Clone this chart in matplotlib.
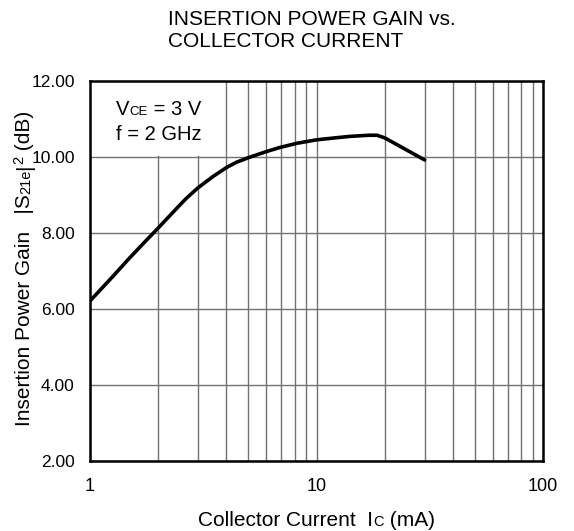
import matplotlib
matplotlib.use("Agg")
import matplotlib.pyplot as plt
from matplotlib.patches import Rectangle

plt.rcParams['font.family'] = ['Liberation Sans', 'DejaVu Sans']

# Data
ic_ma = [1.0, 1.25, 1.5, 1.75, 2.0, 2.33, 2.65, 3.0, 3.5, 4.0, 4.43, 5.0, 6.0, 6.9,
         8.2, 10.0, 12.0, 14.0, 17.0, 18.5, 20.0, 25.0, 30.0]
gain_db = [6.22, 6.84, 7.36, 7.78, 8.14, 8.56, 8.91, 9.20, 9.50, 9.73, 9.87, 9.99, 10.15, 10.26,
           10.37, 10.46, 10.51, 10.55, 10.58, 10.58, 10.51, 10.19, 9.93]

x_ticks = [1, 10, 100]
x_tick_labels = ["1", "10", "100"]
y_ticks = [2, 4, 6, 8, 10, 12]
y_tick_labels = ["2.00", "4.00", "6.00", "8.00", "10.00", "12.00"]

W, H = 574, 531
fig = plt.figure(figsize=(W / 100, H / 100), dpi=100)
ax = fig.add_axes([90 / W, 1 - 461.3 / H, (543.2 - 90) / W, (461.3 - 81.3) / H])

ax.set_xscale('log')
ax.set_xlim(1, 100)
ax.set_ylim(2, 12)
ax.set_xticks(x_ticks)
ax.set_xticklabels(x_tick_labels)
ax.set_xticks([m * d for d in (1, 10) for m in range(2, 10)], minor=True)
ax.xaxis.set_minor_formatter(matplotlib.ticker.NullFormatter())
ax.set_yticks(y_ticks)
ax.set_yticklabels(y_tick_labels)
ax.tick_params(which='both', length=0)
ax.tick_params(axis='x', labelsize=13, pad=12)
ax.tick_params(axis='y', labelsize=12.5, pad=11)

ax.grid(True, which='both', color='#727272', linewidth=1.0)
ax.set_axisbelow(True)
for s in ax.spines.values():
    s.set_linewidth(1.8)
    s.set_color('black')

# white box behind the condition text
ax.add_patch(Rectangle((1.0, 10.04), 3.9 - 1.0, 12 - 10.04, facecolor='white',
                       edgecolor='none', zorder=1.5))

ax.plot(ic_ma, gain_db, color='black', linewidth=2.6, zorder=3,
        solid_joinstyle='round', solid_capstyle='round')

fig.canvas.draw()
renderer = fig.canvas.get_renderer()


def runs(x0, y0, pieces, rotation=0):
    """Draw text runs starting at pixel (x0, y0) (y from top), baseline aligned."""
    pos = 0.0
    for txt, size, shift in pieces:
        if rotation == 0:
            px, py = x0 + pos, (H - y0) + shift
        else:
            px, py = x0 - shift, (H - y0) + pos
        t = fig.text(px / W, py / H, txt, fontsize=size, ha='left', va='baseline',
                     rotation=rotation, rotation_mode='anchor')
        bb = t.get_window_extent(renderer)
        pos += bb.width if rotation == 0 else bb.height


# Title
runs(168, 25, [("INSERTION POWER GAIN vs.", 15, 0)])
runs(168, 47, [("COLLECTOR CURRENT", 15, 0)])

# Conditions
runs(116, 115, [("V", 14.5, 0), ("CE", 9.5, 0), (" = 3 V", 14.5, 0)])
runs(116, 140, [("f = 2 GHz", 14.5, 0)])

# X label
runs(198, 526, [("Collector Current  I", 15, 0), ("C", 10.5, 0), (" (mA)", 15, 0)])

# Y label (rotated)
runs(30, 426, [("Insertion Power Gain   |S", 15, 0), ("21e", 10.5, 0), ("|", 15, 0),
               ("2", 10.5, 6.5), (" (dB)", 15, 0)], rotation=90)

fig.savefig('out.png', dpi=100)
